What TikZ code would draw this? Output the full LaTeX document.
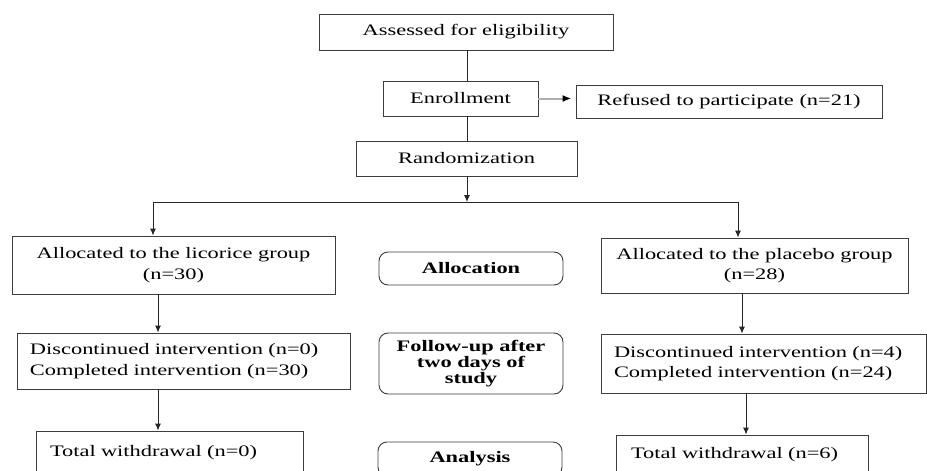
\documentclass[tikz,border=0pt]{standalone}
\usepackage{fontspec}
\setmainfont{Liberation Serif}[FakeStretch=1.4]
\usepackage{tikz}
\usetikzlibrary{positioning,calc,arrows.meta}
\definecolor{boxgray}{RGB}{60,60,60}
\definecolor{linegray}{RGB}{175,175,175}

\begin{document}
\begin{tikzpicture}[
    x=1pt, y=-1pt,
    >={Latex[length=7pt,width=6pt]},
    box/.style={
        rectangle, draw=boxgray, line width=0.9pt,
        inner sep=0pt, align=center,
        font=\fontsize{16}{20.5}\selectfont
    },
    leftbox/.style={box, align=left},
    phasebox/.style={
        box, rounded corners=9pt,
        font=\fontsize{16}{14.5}\selectfont\bfseries
    },
    line/.style={line width=0.9pt, black!85},
    arrow/.style={->, line width=0.9pt, black!85}
]
\useasboundingbox (0,0) rectangle (927,471);
\clip (0,0) rectangle (927,471);

% top: screening
\node[box, minimum width=294pt, minimum height=36pt] (assess) at (466,32) {Assessed for eligibility};
\node[box, minimum width=155pt, minimum height=35pt] (enroll) at (460.5,98.5) {Enrollment};
\node[box, minimum width=306pt, minimum height=33pt] (refused) at (729,101.5) {Refused to participate (n=21)};
\node[box, minimum width=221pt, minimum height=35pt] (random) at (466.5,158.5) {Randomization};

% left arm
\node[box, minimum width=323pt, minimum height=58pt] (licorice) at (173.5,265) {Allocated to the licorice group\\(n=30)};
\node[leftbox, minimum width=333pt, minimum height=56pt, text width=307pt] (discL) at (183.5,361) {Discontinued intervention (n=0)\\Completed intervention (n=30)};
\node[leftbox, minimum width=267pt, minimum height=44pt, text width=239pt] (totalL) at (169.5,453) {Total withdrawal (n=0)};

% middle: phases
\node[phasebox, minimum width=184pt, minimum height=33pt] (alloc) at (471,268.5) {Allocation};
\node[phasebox, minimum width=184pt, minimum height=61pt] (follow) at (471,363.5) {Follow-up after\\two days of\\study};
\node[phasebox, minimum width=184pt, minimum height=34pt] (analysis) at (470,459) {Analysis};

% right arm
\node[box, minimum width=307pt, minimum height=55pt] (placebo) at (754.5,265.5) {Allocated to the placebo group\\(n=28)};
\node[leftbox, minimum width=325pt, minimum height=59pt, text width=299pt] (discR) at (763.5,363.5) {Discontinued intervention (n=4)\\Completed intervention (n=24)};
\node[leftbox, minimum width=252pt, minimum height=40pt, text width=222pt] (totalR) at (742,455) {Total withdrawal (n=6)};

% split points
\coordinate (split) at (467,202);
\coordinate (splitL) at (153,202);
\coordinate (splitR) at (738,202);
\coordinate (colL) at (158,0);
\coordinate (colR) at (742,0);
\coordinate (colR2) at (746,0);

% connectors
\draw[line] (assess.south -| split) -- (enroll.north -| split);
\draw[line] (enroll.south -| split) -- (random.north -| split);
\draw[line width=2pt, linegray, -{Latex[black,length=9pt,width=7pt]}, shorten >=4pt] (enroll) -- (enroll -| refused.west);
\draw[arrow] (random.south -| split) -- (split);
\draw[line] (splitL) -- (splitR);
\draw[arrow] (splitL) -- (licorice.north -| splitL);
\draw[arrow] (splitR) -- (placebo.north -| splitR);
\draw[arrow] (licorice.south -| colL) -- (discL.north -| colL);
\draw[arrow] (discL.south -| colL) -- (totalL.north -| colL);
\draw[arrow] (placebo.south -| colR) -- (discR.north -| colR);
\draw[arrow] (discR.south -| colR2) -- (totalR.north -| colR2);

\end{tikzpicture}
\end{document}
